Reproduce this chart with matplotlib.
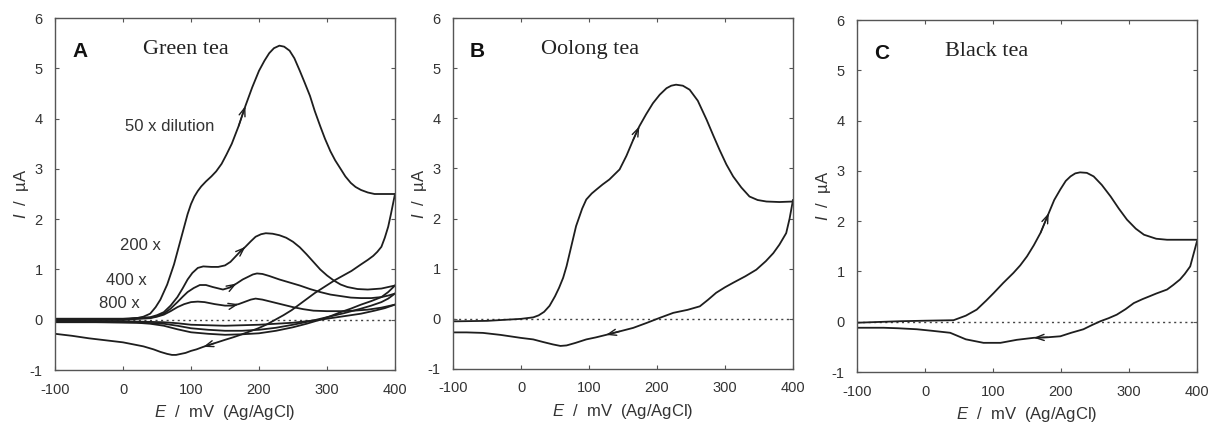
import matplotlib
matplotlib.use("Agg")
import matplotlib.pyplot as plt
import numpy as np

plt.rcParams['font.family'] = ['Liberation Sans', 'DejaVu Sans']
plt.rcParams['mathtext.fontset'] = 'custom'
plt.rcParams['mathtext.rm'] = 'Liberation Sans'
plt.rcParams['mathtext.it'] = 'Liberation Sans:italic'

# ---------------- data ----------------
# Panel A (Green tea) - 50x dilution
a50_fx = [-100, -50, 0, 20, 30, 40, 48, 55, 60, 65, 70, 75, 80, 85, 90, 95, 100, 105, 110, 115, 122, 130, 137, 145, 152, 160, 170, 180, 190, 200, 208, 215, 222, 230, 237, 245, 252, 260, 267, 275, 282, 290, 297, 305, 312, 320, 327, 335, 342, 350, 360, 370, 385, 400]
a50_fy = [0.0, 0.0, 0.0, 0.03, 0.06, 0.12, 0.25, 0.4, 0.55, 0.7, 0.9, 1.1, 1.35, 1.6, 1.85, 2.1, 2.3, 2.45, 2.56, 2.65, 2.75, 2.85, 2.95, 3.1, 3.28, 3.5, 3.85, 4.25, 4.62, 4.95, 5.15, 5.3, 5.4, 5.45, 5.43, 5.35, 5.2, 4.95, 4.72, 4.45, 4.15, 3.85, 3.6, 3.35, 3.17, 3.0, 2.85, 2.72, 2.64, 2.58, 2.53, 2.5, 2.5, 2.5]
a50_rx = [400, 397, 394, 390, 385, 380, 374, 368, 360, 350, 336, 324, 312, 297, 282, 265, 248, 236, 224, 212, 199, 187, 175, 162, 150, 134, 118, 108, 100, 92, 85, 78, 72, 65, 55, 45, 30, 15, 0, -25, -50, -75, -100]
a50_ry = [2.5, 2.3, 2.1, 1.85, 1.63, 1.45, 1.35, 1.27, 1.19, 1.1, 0.97, 0.88, 0.79, 0.66, 0.53, 0.36, 0.19, 0.09, 0.0, -0.09, -0.17, -0.23, -0.29, -0.35, -0.40, -0.47, -0.54, -0.59, -0.62, -0.66, -0.68, -0.70, -0.70, -0.68, -0.64, -0.59, -0.53, -0.49, -0.45, -0.41, -0.37, -0.32, -0.28]
# 200x
a200_fx = [-100, 0, 40, 50, 60, 70, 80, 88, 95, 102, 110, 118, 130, 140, 150, 158, 165, 172, 180, 188, 195, 203, 210, 220, 230, 240, 250, 260, 270, 280, 290, 300, 310, 320, 330, 345, 360, 380, 400]
a200_fy = [0.02, 0.02, 0.05, 0.09, 0.15, 0.28, 0.45, 0.63, 0.8, 0.93, 1.03, 1.06, 1.05, 1.05, 1.08, 1.15, 1.25, 1.35, 1.45, 1.56, 1.65, 1.7, 1.72, 1.71, 1.68, 1.63, 1.55, 1.44, 1.3, 1.15, 1.0, 0.88, 0.78, 0.7, 0.65, 0.61, 0.6, 0.62, 0.68]
a200_rx = [400, 390, 380, 365, 350, 335, 320, 305, 290, 270, 250, 225, 200, 175, 150, 125, 100, 80, 60, 40, 20, -40, -100]
a200_ry = [0.68, 0.55, 0.45, 0.37, 0.3, 0.22, 0.15, 0.07, 0.0, -0.08, -0.15, -0.22, -0.27, -0.29, -0.3, -0.28, -0.25, -0.19, -0.12, -0.08, -0.06, -0.05, -0.05]
# 400x
a400_fx = [-100, 0, 40, 50, 60, 70, 80, 88, 95, 104, 113, 122, 132, 147, 157, 167, 176, 185, 191, 197, 205, 215, 230, 245, 260, 275, 290, 305, 320, 335, 350, 365, 380, 390, 400]
a400_fy = [0.01, 0.01, 0.04, 0.07, 0.12, 0.22, 0.35, 0.46, 0.55, 0.63, 0.69, 0.69, 0.65, 0.6, 0.64, 0.72, 0.8, 0.86, 0.9, 0.92, 0.91, 0.87, 0.8, 0.74, 0.68, 0.61, 0.55, 0.5, 0.47, 0.44, 0.43, 0.43, 0.45, 0.48, 0.52]
a400_rx = [400, 390, 380, 365, 350, 325, 300, 275, 250, 225, 200, 175, 150, 125, 100, 80, 60, 30, 0, -100]
a400_ry = [0.52, 0.42, 0.35, 0.28, 0.22, 0.13, 0.05, -0.03, -0.1, -0.16, -0.2, -0.22, -0.22, -0.2, -0.17, -0.12, -0.08, -0.06, -0.05, -0.04]
# 800x
a800_fx = [-100, 0, 40, 50, 60, 70, 80, 90, 100, 110, 120, 135, 150, 160, 170, 180, 188, 195, 205, 220, 235, 250, 265, 280, 300, 320, 340, 360, 380, 400]
a800_fy = [0.0, 0.0, 0.03, 0.06, 0.1, 0.17, 0.25, 0.31, 0.35, 0.36, 0.35, 0.31, 0.28, 0.28, 0.31, 0.36, 0.4, 0.42, 0.4, 0.35, 0.3, 0.25, 0.21, 0.18, 0.17, 0.17, 0.18, 0.2, 0.24, 0.3]
a800_rx = [400, 385, 370, 350, 330, 310, 290, 270, 250, 225, 200, 175, 150, 125, 100, 80, 60, 30, 0, -100]
a800_ry = [0.3, 0.23, 0.18, 0.12, 0.08, 0.04, 0.0, -0.03, -0.06, -0.08, -0.1, -0.11, -0.12, -0.11, -0.1, -0.07, -0.05, -0.04, -0.03, -0.02]

# Panel B (Oolong tea)
b_fx = [-100, -50, 0, 18, 26, 34, 42, 50, 56, 62, 67, 74, 81, 90, 96, 104, 111, 120, 130, 145, 155, 165, 174, 184, 194, 204, 214, 221, 228, 238, 248, 260, 273, 283, 292, 302, 312, 324, 336, 348, 361, 380, 400]
b_fy = [-0.05, -0.04, 0.0, 0.03, 0.07, 0.14, 0.26, 0.45, 0.62, 0.82, 1.05, 1.45, 1.85, 2.2, 2.38, 2.5, 2.58, 2.68, 2.78, 2.98, 3.25, 3.57, 3.84, 4.08, 4.30, 4.47, 4.60, 4.65, 4.67, 4.65, 4.57, 4.35, 3.97, 3.65, 3.37, 3.08, 2.84, 2.62, 2.44, 2.37, 2.34, 2.33, 2.34]
b_rx = [400, 395, 390, 380, 371, 360, 346, 330, 312, 300, 287, 275, 263, 245, 224, 204, 185, 165, 145, 125, 110, 96, 80, 67, 58, 47, 32, 18, 0, -30, -56, -80, -100]
b_ry = [2.37, 2.0, 1.71, 1.48, 1.31, 1.15, 0.98, 0.85, 0.72, 0.63, 0.52, 0.38, 0.25, 0.18, 0.12, 0.02, -0.08, -0.18, -0.25, -0.32, -0.37, -0.41, -0.48, -0.53, -0.54, -0.51, -0.46, -0.41, -0.38, -0.32, -0.28, -0.27, -0.27]

# Panel C (Black tea)
c_fx = [-100, -36, 0, 42, 60, 76, 90, 101, 115, 130, 140, 150, 160, 170, 182, 190, 199, 207, 214, 221, 228, 238, 248, 260, 273, 285, 297, 310, 322, 340, 356, 380, 400]
c_fy = [-0.02, 0.01, 0.02, 0.03, 0.12, 0.24, 0.42, 0.57, 0.77, 0.97, 1.12, 1.30, 1.52, 1.77, 2.16, 2.42, 2.63, 2.8, 2.89, 2.95, 2.97, 2.96, 2.89, 2.72, 2.49, 2.25, 2.03, 1.85, 1.73, 1.65, 1.63, 1.63, 1.63]
c_rx = [400, 395, 390, 382, 375, 365, 356, 340, 331, 320, 307, 295, 282, 270, 258, 245, 233, 215, 199, 180, 160, 135, 111, 86, 60, 37, 10, -12, -40, -61, -100]
c_ry = [1.6, 1.35, 1.1, 0.95, 0.84, 0.73, 0.64, 0.56, 0.51, 0.45, 0.37, 0.25, 0.14, 0.07, 0.01, -0.07, -0.15, -0.22, -0.29, -0.31, -0.32, -0.36, -0.42, -0.42, -0.35, -0.22, -0.18, -0.15, -0.13, -0.12, -0.12]

panel_letters = ['A', 'B', 'C']
panel_titles = ['Green tea', 'Oolong tea', 'Black tea']
xticks = [-100, 0, 100, 200, 300, 400]
yticks = [-1, 0, 1, 2, 3, 4, 5, 6]
dilution_labels = ['50 x dilution', '200 x', '400 x', '800 x']

LC = '#1e1e1e'
SC = '#555555'
LW = 1.3

fig = plt.figure(figsize=(12.11, 4.28), dpi=100)
rects = [
    [55 / 1211, 58 / 428, 340 / 1211, 352 / 428],
    [453 / 1211, 59 / 428, 340 / 1211, 351 / 428],
    [857 / 1211, 56 / 428, 340 / 1211, 352 / 428],
]
axes = [fig.add_axes(r) for r in rects]


def arrow(ax, xs, ys, xat):
    k = xs.index(xat)
    ax.annotate('', xy=(xs[k], ys[k]), xytext=(xs[k - 1], ys[k - 1]),
                arrowprops=dict(arrowstyle='->,head_length=0.6,head_width=0.22',
                                lw=1.0, color=LC, shrinkA=0, shrinkB=0))


for i, ax in enumerate(axes):
    ax.set_xlim(-100, 400)
    ax.set_ylim(-1, 6)
    ax.set_xticks(xticks)
    ax.set_yticks(yticks)
    ax.set_xticklabels([str(t) for t in xticks])
    ax.set_yticklabels([str(t) for t in yticks])
    ax.tick_params(direction='in', length=3, width=0.8, top=True, right=True,
                   labelsize=10.5, colors=SC, labelcolor='#333333')
    ax.tick_params(axis='x', pad=9)
    ax.tick_params(axis='y', pad=9)
    for s in ax.spines.values():
        s.set_color(SC)
        s.set_linewidth(1.0)
    ax.axhline(0, color='#444444', lw=1.0, ls=(0, (1.5, 2.5)), zorder=1)
    ax.set_xlabel(r'$E$  /  mV  (Ag/AgCl)', fontsize=12, color='#333333', labelpad=5)
    ax.set_ylabel(r'$I$  /  µA', fontsize=12, color='#333333', labelpad=-1)
    ax.text(0.05, 0.905, panel_letters[i], transform=ax.transAxes, fontsize=15,
            fontweight='bold', color='#111111', va='center', ha='left')
    ax.text(0.26, 0.91, panel_titles[i], transform=ax.transAxes, fontsize=16,
            family='Liberation Serif', color='#222222', va='center', ha='left')

axA, axB, axC = axes
for fx, fy, rx, ry in [(a50_fx, a50_fy, a50_rx, a50_ry),
                       (a200_fx, a200_fy, a200_rx, a200_ry),
                       (a400_fx, a400_fy, a400_rx, a400_ry),
                       (a800_fx, a800_fy, a800_rx, a800_ry)]:
    axA.plot(fx, fy, color=LC, lw=LW)
    axA.plot(rx, ry, color=LC, lw=LW)
arrow(axA, a50_fx, a50_fy, 180)
arrow(axA, a200_fx, a200_fy, 180)
arrow(axA, a400_fx, a400_fy, 167)
arrow(axA, a800_fx, a800_fy, 170)
arrow(axA, a50_rx, a50_ry, 118)

axA.text(3, 3.85, dilution_labels[0], fontsize=12, color='#333333', va='center')
axA.text(-5, 1.47, dilution_labels[1], fontsize=12, color='#333333', va='center')
axA.text(-25, 0.77, dilution_labels[2], fontsize=12, color='#333333', va='center')
axA.text(-35, 0.33, dilution_labels[3], fontsize=12, color='#333333', va='center')

axB.plot(b_fx, b_fy, color=LC, lw=LW)
axB.plot(b_rx, b_ry, color=LC, lw=LW)
arrow(axB, b_fx, b_fy, 174)
arrow(axB, b_rx, b_ry, 125)

axC.plot(c_fx, c_fy, color=LC, lw=LW)
axC.plot(c_rx, c_ry, color=LC, lw=LW)
arrow(axC, c_fx, c_fy, 182)
arrow(axC, c_rx, c_ry, 160)

fig.savefig('out.png', dpi=100)
